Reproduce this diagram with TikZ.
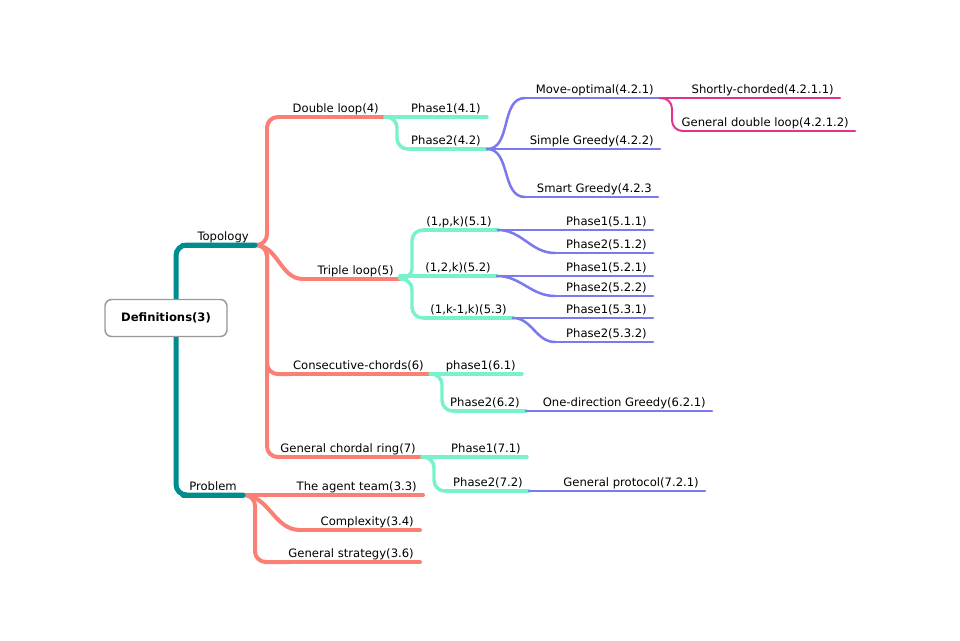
\documentclass[tikz,border=0pt]{standalone}
\usepackage{fontspec}
\setmainfont{DejaVu Sans}
\usepackage{tikz}
\usetikzlibrary{calc,positioning}
\definecolor{tealbr}{RGB}{0,140,140}
\definecolor{salmonbr}{RGB}{250,128,118}
\definecolor{aquabr}{RGB}{120,242,204}
\definecolor{bluebr}{RGB}{122,122,238}
\definecolor{pinkbr}{RGB}{228,50,140}
\tikzset{lvl0/.style={tealbr,line width=3.75pt},lvl1/.style={salmonbr,line width=3pt},lvl2/.style={aquabr,line width=2.6pt},
lvl3/.style={bluebr,line width=1.9pt},lvl4/.style={pinkbr,line width=1.5pt}}

\begin{document}
\begin{tikzpicture}[x=0.75pt,y=-0.75pt,line cap=round]

\tikzset{elbow/.style={to path={-- ++(12,0) |- (\tikztotarget)}},
scurve/.style={out=0,in=180},
lbl/.style={font=\fontsize{8.7}{10}\selectfont,anchor=base east,inner sep=0pt,text=black}}

\useasboundingbox (0,0) rectangle (960,640);

% Topics: name/start/end/y/level/text
\foreach \nm/\xs/\xe/\y/\lv/\txt in {
  topo/183/255/245/0/Topology, prob/183/243/495/0/Problem,
  dl/280/385/117/1/Double loop(4), tl/303/400/279/1/Triple loop(5),
  cc/290/430/374/1/Consecutive-chords(6), gcr/280/422/457/1/General chordal ring(7),
  team/243/423/495/1/The agent team(3.3), cplx/300/420/530/1/Complexity(3.4),
  gstr/290/420/562/1/General strategy(3.6),
  dlp1/385/487/117/2/Phase1(4.1), dlp2/410/487/149/2/Phase2(4.2),
  mo/525/660/98/3/Move-optimal(4.2.1), sg/487/660/149/3/Simple Greedy(4.2.2),
  smg/525/658/197/3/Smart Greedy(4.2.3,
  sc/660/840/98/4/Shortly-chorded(4.2.1.1), gdl/684/855/131/4/General double loop(4.2.1.2),
  t1/424/498/230/2/{(1,p,k)(5.1)}, t2/400/497/276/2/{(1,2,k)(5.2)}, t3/424/513/318/2/{(1,k-1,k)(5.3)},
  t11/498/653/230/3/Phase1(5.1.1), t12/555/653/253/3/Phase2(5.1.2),
  t21/497/653/276/3/Phase1(5.2.1), t22/555/653/296/3/Phase2(5.2.2),
  t31/513/653/318/3/Phase1(5.3.1), t32/555/653/342/3/Phase2(5.3.2),
  cp1/430/522/374/2/phase1(6.1), cp2/454/526/411/2/Phase2(6.2),
  odg/526/712/411/3/One-direction Greedy(6.2.1),
  gp1/422/527/457/2/Phase1(7.1), gp2/446/529/491/2/Phase2(7.2),
  gpr/529/705/491/3/General protocol(7.2.1)}{
  \coordinate (\nm-s) at (\xs,\y);
  \coordinate (\nm-e) at (\xe,\y);
  \draw[lvl\lv] (\nm-s) -- (\nm-e);
  \node[lbl] (\nm) at ({\xe-6},{\y-5}) {\txt};
}

% Branches: from/to/level/kind
\foreach \a/\b/\lv/\k in {
  topo-e/dl-s/1/elbow, topo-e/tl-s/1/scurve, topo-e/cc-s/1/elbow, topo-e/gcr-s/1/elbow,
  prob-e/cplx-s/1/scurve, prob-e/gstr-s/1/elbow,
  dl-e/dlp2-s/2/elbow, tl-e/t1-s/2/elbow, tl-e/t2-s/2/scurve, tl-e/t3-s/2/elbow,
  cc-e/cp2-s/2/elbow, gcr-e/gp2-s/2/elbow,
  dlp2-e/mo-s/3/scurve, dlp2-e/smg-s/3/scurve,
  t1-e/t12-s/3/scurve, t2-e/t22-s/3/scurve, t3-e/t32-s/3/scurve,
  mo-e/gdl-s/4/elbow}
  \draw[lvl\lv,rounded corners=8pt] (\a) to[\k] (\b);

% Root
\coordinate (hub) at (176,318);
\draw[lvl0,rounded corners=8pt] (hub) |- (topo-e);
\draw[lvl0,rounded corners=8pt] (hub) |- (prob-e);
\node[draw=black!40,fill=white,line width=1.1pt,rounded corners=5pt,minimum width=91.5pt,minimum height=27.75pt,
  font=\bfseries\fontsize{8.7}{10}\selectfont] (root) at (166,318) {Definitions(3)};

\end{tikzpicture}
\end{document}
